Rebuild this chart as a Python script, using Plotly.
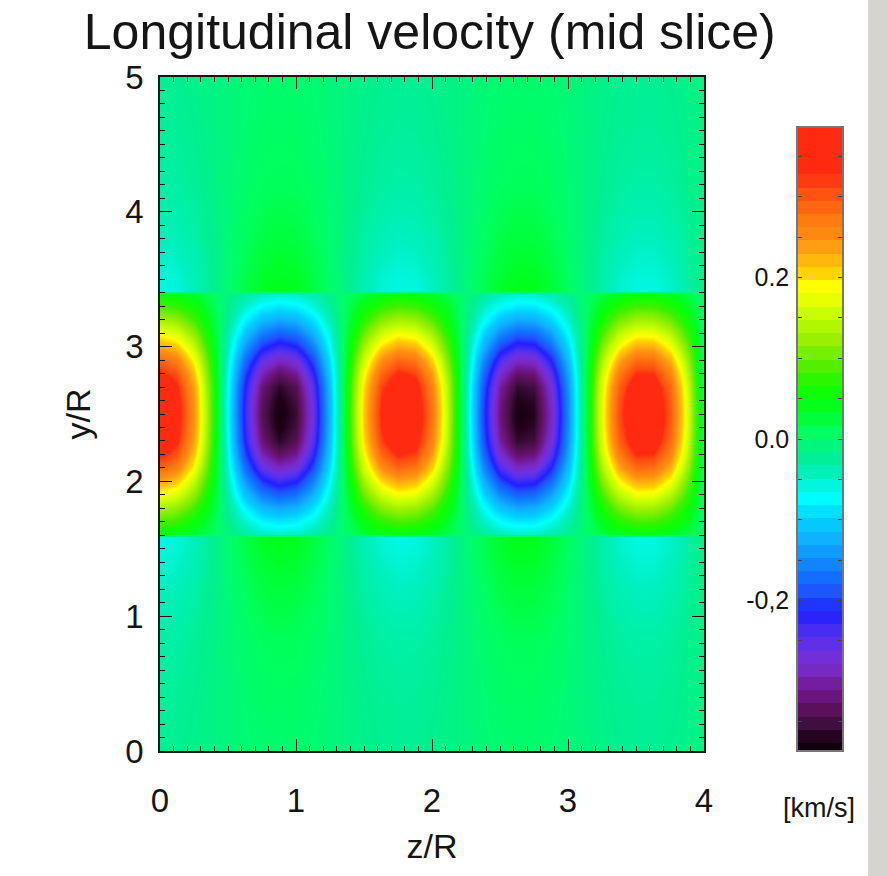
import numpy as np
import plotly.graph_objects as go

# ---------------- data ----------------
# positions along the tube (z/R) and longitudinal velocity on the tube axis (y/R = 2.5), km/s
z_nodes = [0.0, 0.125, 0.25, 0.375, 0.5, 0.625, 0.75, 0.875, 1.0, 1.125, 1.25, 1.375,
           1.5, 1.625, 1.75, 1.875, 2.0, 2.125, 2.25, 2.375, 2.5, 2.625, 2.75, 2.875,
           3.0, 3.125, 3.25, 3.375, 3.5, 3.625, 3.75, 3.875, 4.0]
axial_velocity = [0.385, 0.348, 0.245, 0.094, -0.074, -0.229, -0.339, -0.384, -0.357,
                  -0.260, -0.114, 0.054, 0.213, 0.330, 0.383, 0.364, 0.274, 0.133,
                  -0.034, -0.197, -0.320, -0.380, -0.370, -0.286, -0.152, 0.013, 0.179,
                  0.308, 0.377, 0.374, 0.301, 0.170, 0.003]

# transverse positions (y/R), ratio of local velocity to the axial value, and a small offset
y_nodes = [0.0, 0.4, 0.8, 1.0, 1.2, 1.4, 1.5, 1.59,
           1.61, 1.7, 1.8, 1.9, 2.0, 2.1, 2.2, 2.3, 2.4, 2.5, 2.6, 2.7, 2.8, 2.9,
           3.0, 3.1, 3.2, 3.3, 3.39,
           3.41, 3.5, 3.6, 3.8, 4.0, 4.2, 4.6, 5.0]
transverse_ratio = [-0.031, -0.042, -0.057, -0.073, -0.091, -0.112, -0.125, -0.130,
                    0.13, 0.22, 0.34, 0.47, 0.61, 0.75, 0.87, 0.95, 0.985, 1.0, 0.985,
                    0.95, 0.87, 0.75, 0.61, 0.47, 0.34, 0.22, 0.13,
                    -0.130, -0.125, -0.112, -0.091, -0.073, -0.057, -0.042, -0.031]
background_offset = [-0.01] * 8 + [0.0] * 19 + [-0.01] * 8

# colour bar scale
v_min, v_max = -0.385, 0.385
cbar_tickvals = [-0.35, -0.3, -0.25, -0.2, -0.15, -0.1, -0.05, 0.0,
                 0.05, 0.1, 0.15, 0.2, 0.25, 0.3, 0.35]
cbar_ticktext = ["", "", "", "-0,2", "", "", "", "0.0", "", "", "", "0.2", "", "", ""]
z_ticks = [0, 1, 2, 3, 4]
y_ticks = [0, 1, 2, 3, 4, 5]

# ---------------- build ----------------
field = np.outer(np.array(transverse_ratio), np.array(axial_velocity)) + \
    np.array(background_offset)[:, None]

colorscale = [
    [0.000, "#100010"], [0.016, "#200018"], [0.043, "#401040"], [0.068, "#601060"],
    [0.096, "#701890"], [0.125, "#7828c0"], [0.156, "#7030e0"], [0.185, "#5030f0"],
    [0.220, "#2020ff"], [0.250, "#2050ff"], [0.278, "#1070ff"], [0.309, "#1090ff"],
    [0.338, "#10b0ff"], [0.370, "#00d0ff"], [0.407, "#00ffff"], [0.442, "#00f0c0"],
    [0.474, "#00f090"], [0.511, "#00ff60"], [0.547, "#00ff20"], [0.579, "#10ff00"],
    [0.608, "#40f000"], [0.635, "#70f000"], [0.664, "#a0f000"], [0.696, "#c0ff00"],
    [0.723, "#e8ff00"], [0.744, "#ffff00"], [0.768, "#ffd000"], [0.793, "#ffb010"],
    [0.820, "#ff9010"], [0.852, "#ff7a10"], [0.879, "#ff6010"], [0.904, "#ff4a10"],
    [0.924, "#ff2a10"], [1.000, "#ff2a10"],
]

FONT = "Liberation Sans"
INK = "#151515"

fig = go.Figure()
fig.add_trace(go.Heatmap(
    x=z_nodes, y=y_nodes, z=field, colorscale=colorscale, zmin=v_min, zmax=v_max,
    zsmooth="best", showscale=False, xaxis="x", yaxis="y", hoverinfo="skip"))

cb_levels = np.linspace(v_min, v_max, 48)
fig.add_trace(go.Heatmap(
    x=[0], y=cb_levels, z=[[v] for v in cb_levels], colorscale=colorscale,
    zmin=v_min, zmax=v_max, showscale=False, xaxis="x2", yaxis="y2", hoverinfo="skip"))

axis_common = dict(showgrid=False, zeroline=False, showline=True, linecolor=INK,
                   linewidth=1.5, mirror="ticks", ticks="inside", ticklen=12,
                   tickwidth=1.3, tickcolor=INK,
                   tickfont=dict(family=FONT, size=33, color=INK),
                   minor=dict(ticks="inside", dtick=0.1, ticklen=5, tickwidth=1.1,
                              tickcolor=INK))

fig.update_layout(
    width=888, height=876,
    margin=dict(l=160, r=46, t=77, b=125),
    paper_bgcolor="white", plot_bgcolor="white",
    title=dict(text="Longitudinal velocity (mid slice)", x=0.484, xanchor="center",
               y=0.9646, yanchor="middle",
               font=dict(family=FONT, size=50, color=INK)),
    xaxis=dict(domain=[0, 0.7977], range=[0, 4], tickvals=z_ticks, anchor="y",
               title=dict(text="z/R", font=dict(family=FONT, size=34, color=INK),
                          standoff=16),
               ticklabelstandoff=20, **axis_common),
    yaxis=dict(domain=[0, 1], range=[0, 5], tickvals=y_ticks, anchor="x",
               title=dict(text="y/R", font=dict(family=FONT, size=34, color=INK),
                          standoff=24),
               ticklabelstandoff=8, **axis_common),
    xaxis2=dict(domain=[0.9355, 1.0], range=[-0.5, 0.5], anchor="y2",
                showticklabels=False, ticks="", showgrid=False, zeroline=False,
                showline=True, linecolor="#777777", linewidth=1.5, mirror=True),
    yaxis2=dict(domain=[0.0015, 0.9243], range=[v_min, v_max], anchor="x2", side="left",
                tickvals=cbar_tickvals, ticktext=cbar_ticktext, ticks="inside",
                ticklen=4, tickwidth=1, tickcolor="#444444", mirror="ticks",
                showgrid=False, zeroline=False, showline=True, linecolor="#777777",
                linewidth=1.5, ticklabelstandoff=2,
                tickfont=dict(family=FONT, size=25, color=INK)),
    annotations=[dict(text="[km/s]", xref="paper", yref="paper", x=0.967, y=-0.085,
                      xanchor="center", yanchor="middle", showarrow=False,
                      font=dict(family=FONT, size=27, color=INK))],
    shapes=[dict(type="rect", xref="paper", yref="paper", x0=1.0381, x1=1.08,
                 y0=-0.19, y1=1.12, fillcolor="#d6d4d0", line=dict(width=0),
                 layer="below")],
)

fig.write_html("out.html")
